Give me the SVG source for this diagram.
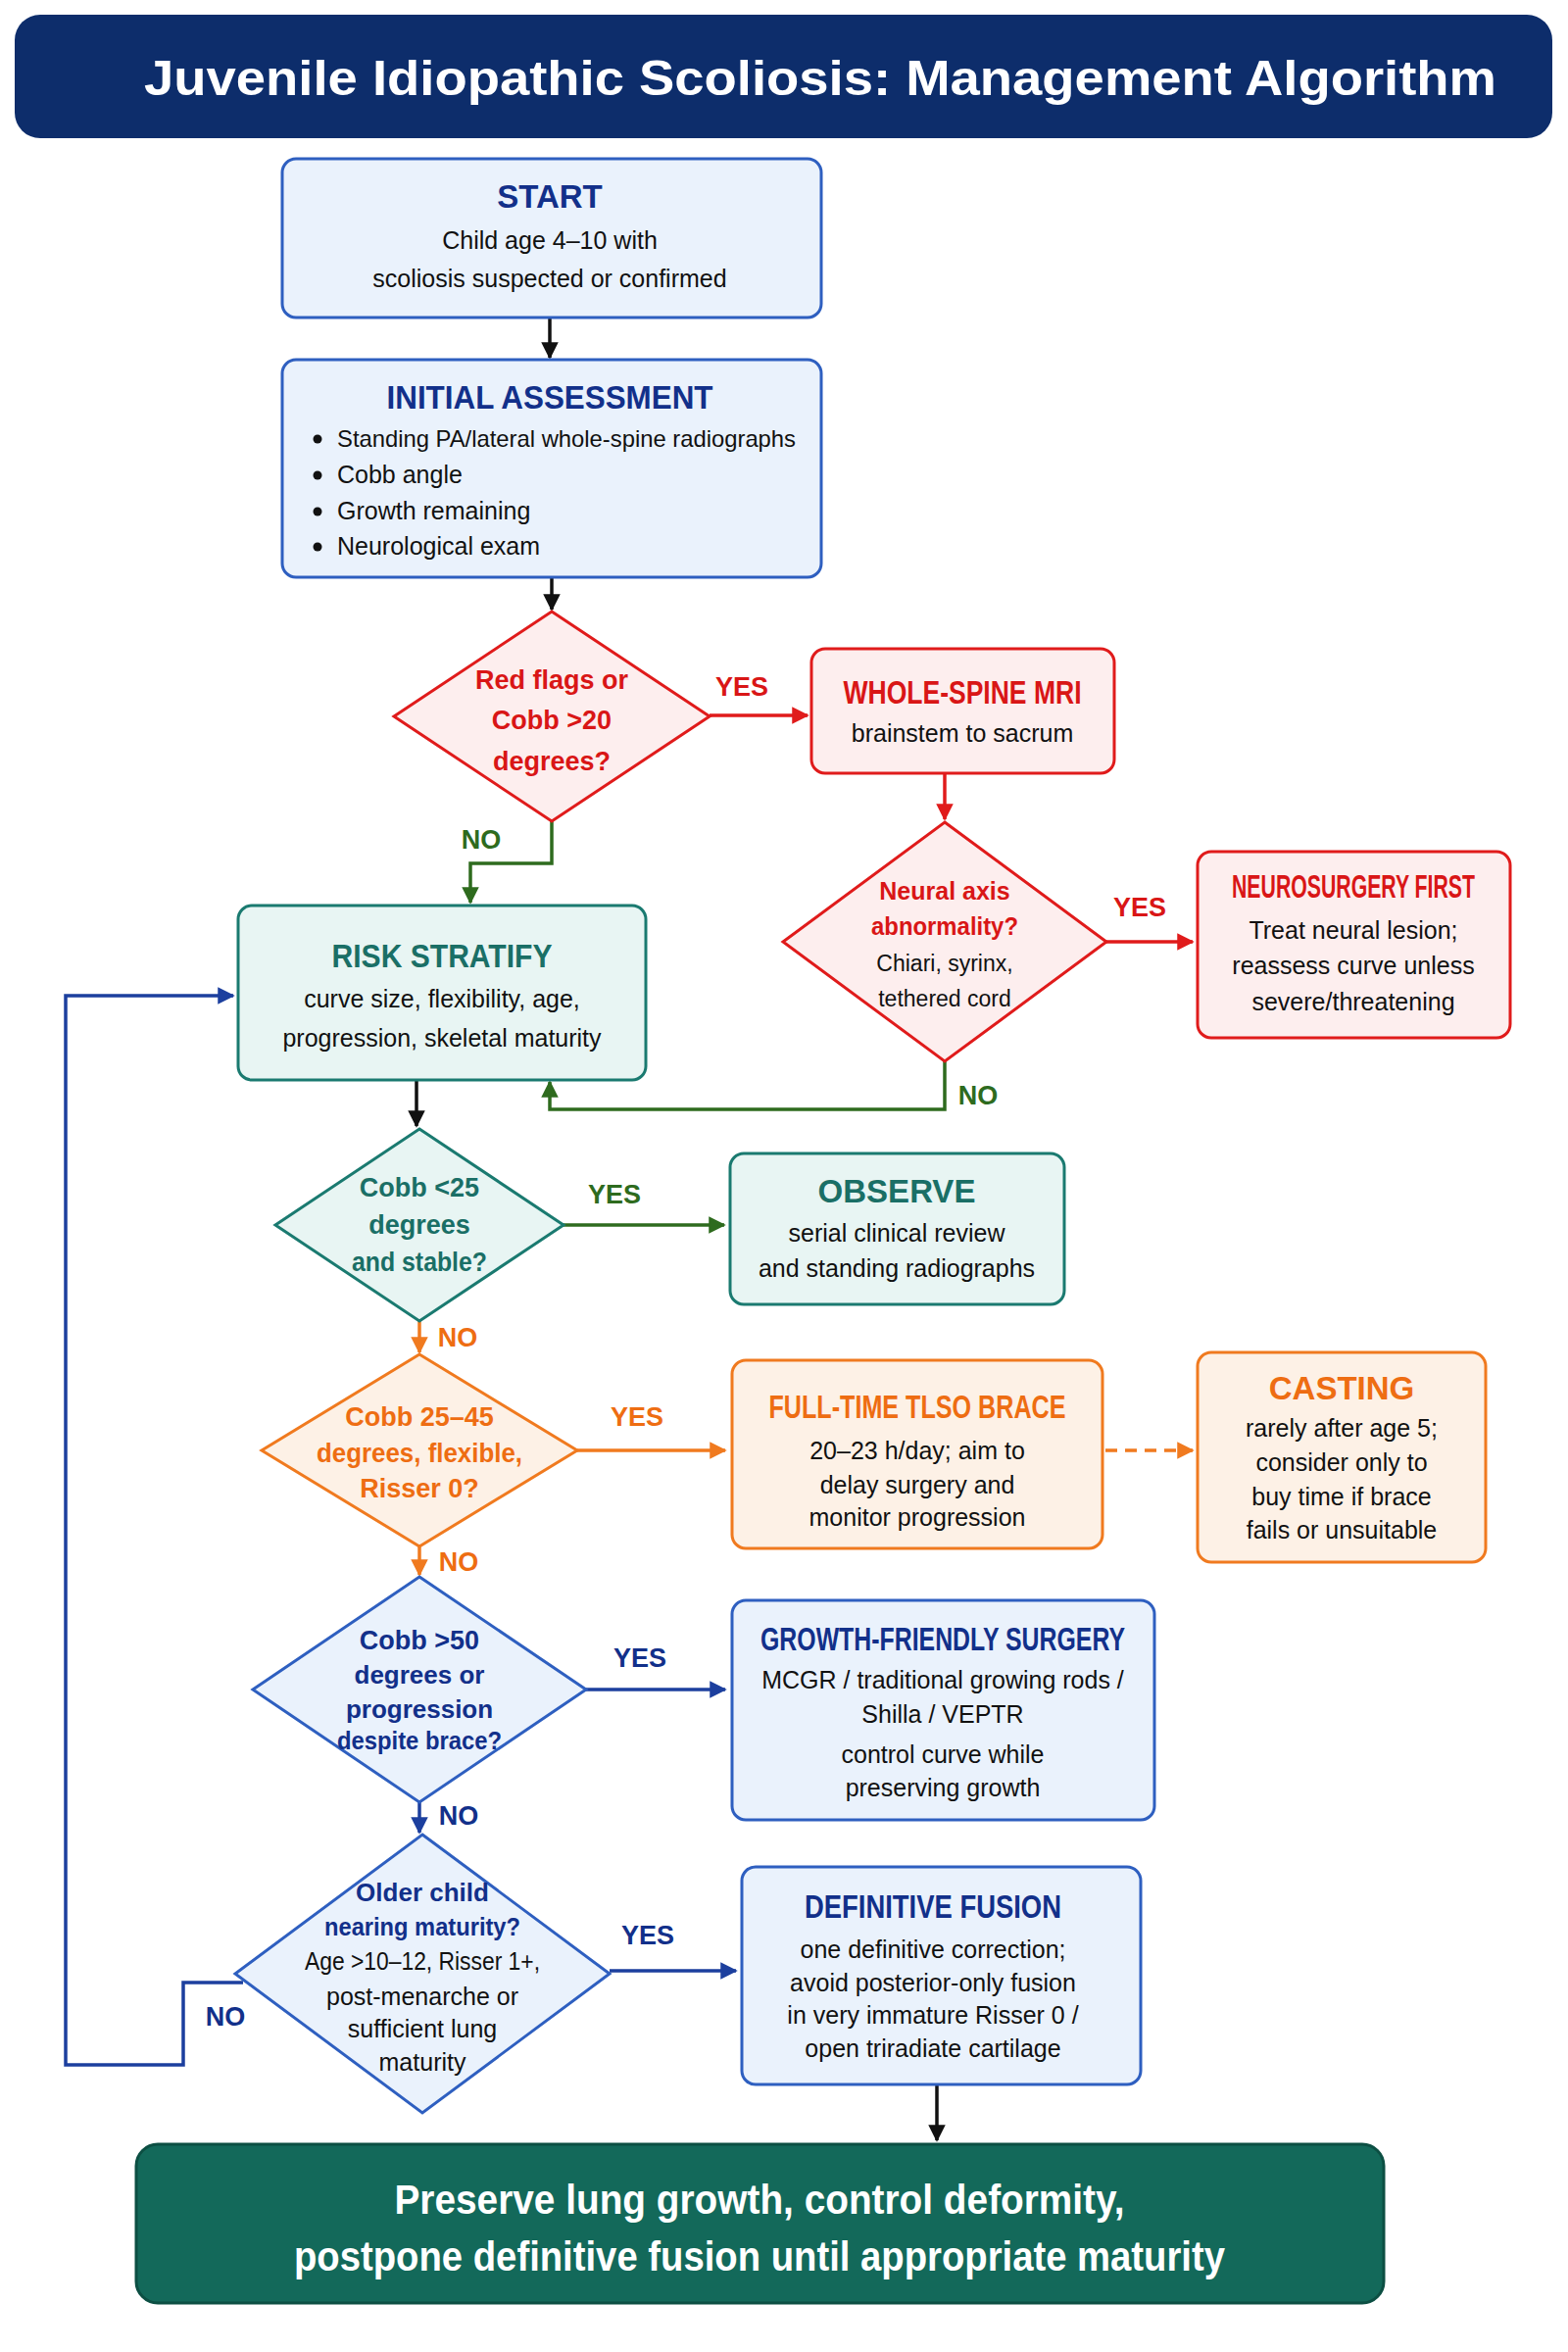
<svg xmlns="http://www.w3.org/2000/svg" width="1600" height="2400" viewBox="0 0 1600 2400">
<defs>
<style>
text{font-family:"Liberation Sans",Arial,sans-serif;text-anchor:middle}
.t{font-weight:bold;font-size:33px}
.b{font-size:25px;fill:#111}
.l{font-weight:bold;font-size:27px}
.blue{fill:#eaf2fc;stroke:#2e5fc0;stroke-width:3}
.red{fill:#fdeeee;stroke:#e01b1b;stroke-width:3}
.teal{fill:#e8f5f3;stroke:#1a7a70;stroke-width:3}
.org{fill:#fdf1e6;stroke:#f07a1f;stroke-width:3}
.cb{fill:#12308a}.cr{fill:#d91616}.ct{fill:#1a6f66}.co{fill:#ee6d12}.cg{fill:#2e6b1e}
.ln{fill:none;stroke-width:3.5}
</style>
<marker id="ak" viewBox="0 0 10 10" refX="9" refY="5" markerWidth="5" markerHeight="5" orient="auto"><path d="M0,0L10,5L0,10z" fill="#111"/></marker>
<marker id="ar" viewBox="0 0 10 10" refX="9" refY="5" markerWidth="5" markerHeight="5" orient="auto"><path d="M0,0L10,5L0,10z" fill="#e01b1b"/></marker>
<marker id="ag" viewBox="0 0 10 10" refX="9" refY="5" markerWidth="5" markerHeight="5" orient="auto"><path d="M0,0L10,5L0,10z" fill="#2e6b1e"/></marker>
<marker id="ao" viewBox="0 0 10 10" refX="9" refY="5" markerWidth="5" markerHeight="5" orient="auto"><path d="M0,0L10,5L0,10z" fill="#f07a1f"/></marker>
<marker id="ab" viewBox="0 0 10 10" refX="9" refY="5" markerWidth="5" markerHeight="5" orient="auto"><path d="M0,0L10,5L0,10z" fill="#1c3f9e"/></marker>
</defs>
<rect width="1600" height="2400" fill="#fff"/>
<g id="title"><rect x="15" y="15" width="1569" height="126" rx="26" fill="#0d2d6b"/><text x="837" y="97" fill="#fff" font-weight="bold" font-size="50" textLength="1380" lengthAdjust="spacingAndGlyphs">Juvenile Idiopathic Scoliosis: Management Algorithm</text></g>

<g id="connectors">
<path class="ln" stroke="#111" d="M561,324V365" marker-end="url(#ak)"/>
<path class="ln" stroke="#111" d="M563,589V622" marker-end="url(#ak)"/>
<path class="ln" stroke="#e01b1b" d="M724,730H824" marker-end="url(#ar)"/>
<path class="ln" stroke="#e01b1b" d="M964,789V836" marker-end="url(#ar)"/>
<path class="ln" stroke="#e01b1b" d="M1129,961H1217" marker-end="url(#ar)"/>
<path class="ln" stroke="#2e6b1e" d="M964,1083V1132H561V1104" marker-end="url(#ag)"/>
<path class="ln" stroke="#2e6b1e" d="M563,838V881H480V921" marker-end="url(#ag)"/>
<path class="ln" stroke="#1c3f9e" d="M248,2023H187V2107H67V1016H238" marker-end="url(#ab)"/>
<path class="ln" stroke="#111" d="M425,1102V1149" marker-end="url(#ak)"/>
<path class="ln" stroke="#2e6b1e" d="M575,1250H739" marker-end="url(#ag)"/>
<path class="ln" stroke="#f07a1f" d="M428,1348V1380" marker-end="url(#ao)"/>
<path class="ln" stroke="#f07a1f" d="M589,1480H740" marker-end="url(#ao)"/>
<path class="ln" stroke="#f07a1f" stroke-dasharray="12,8" d="M1128,1480H1217" marker-end="url(#ao)"/>
<path class="ln" stroke="#f07a1f" d="M428,1578V1607" marker-end="url(#ao)"/>
<path class="ln" stroke="#1c3f9e" d="M598,1724H740" marker-end="url(#ab)"/>
<path class="ln" stroke="#1c3f9e" d="M428,1839V1870" marker-end="url(#ab)"/>
<path class="ln" stroke="#1c3f9e" d="M622,2011H751" marker-end="url(#ab)"/>
<path class="ln" stroke="#111" d="M956,2127V2184" marker-end="url(#ak)"/>
<text class="l cr" x="757" y="710">YES</text>
<text class="l cr" x="1163" y="935">YES</text>
<text class="l cg" x="998" y="1127">NO</text>
<text class="l cg" x="491" y="866">NO</text>
<text class="l cb" x="230" y="2067">NO</text>
<text class="l cg" x="627" y="1228">YES</text>
<text class="l co" x="467" y="1374">NO</text>
<text class="l co" x="650" y="1455">YES</text>
<text class="l co" x="468" y="1603">NO</text>
<text class="l cb" x="653" y="1701">YES</text>
<text class="l cb" x="468" y="1862">NO</text>
<text class="l cb" x="661" y="1984">YES</text>
</g>

<g id="start"><rect class="blue" x="288" y="162" width="550" height="162" rx="14"/><text class="t cb" x="561" y="212">START</text><text class="b" x="561" y="254">Child age 4–10 with</text><text class="b" x="561" y="293">scoliosis suspected or confirmed</text></g>

<g id="assess"><rect class="blue" x="288" y="367" width="550" height="222" rx="14"/><text class="t cb" x="561" y="417" textLength="333" lengthAdjust="spacingAndGlyphs">INITIAL ASSESSMENT</text>
<circle cx="324" cy="448" r="4.5" fill="#111"/><circle cx="324" cy="485" r="4.5" fill="#111"/><circle cx="324" cy="522" r="4.5" fill="#111"/><circle cx="324" cy="558" r="4.5" fill="#111"/>
<text class="b" x="344" y="456" style="text-anchor:start;font-size:24px" textLength="468" lengthAdjust="spacingAndGlyphs">Standing PA/lateral whole-spine radiographs</text>
<text class="b" x="344" y="493" style="text-anchor:start">Cobb angle</text>
<text class="b" x="344" y="530" style="text-anchor:start">Growth remaining</text>
<text class="b" x="344" y="566" style="text-anchor:start">Neurological exam</text></g>

<g id="d1"><path class="red" d="M563,624L724,731L563,838L402,731Z"/><text class="l cr" x="563" y="703" font-size="29">Red flags or</text><text class="l cr" x="563" y="744" font-size="29">Cobb &gt;20</text><text class="l cr" x="563" y="786" font-size="29">degrees?</text></g>

<g id="mri"><rect class="red" x="828" y="662" width="309" height="127" rx="14"/><text class="t cr" x="982" y="718" font-size="30" textLength="243" lengthAdjust="spacingAndGlyphs">WHOLE-SPINE MRI</text><text class="b" x="982" y="757">brainstem to sacrum</text></g>

<g id="d2"><path class="red" d="M964,839L1129,961L964,1083L799,961Z"/><text class="l cr" x="964" y="918" style="font-size:25px">Neural axis</text><text class="l cr" x="964" y="954" style="font-size:25px" textLength="150" lengthAdjust="spacingAndGlyphs">abnormality?</text><text class="b" x="964" y="991" style="font-size:23px">Chiari, syrinx,</text><text class="b" x="964" y="1027" style="font-size:23px">tethered cord</text></g>

<g id="neuro"><rect class="red" x="1222" y="869" width="319" height="190" rx="14"/><text class="t cr" x="1381" y="916" font-size="28" textLength="248" lengthAdjust="spacingAndGlyphs">NEUROSURGERY FIRST</text><text class="b" x="1381" y="958">Treat neural lesion;</text><text class="b" x="1381" y="994">reassess curve unless</text><text class="b" x="1381" y="1031">severe/threatening</text></g>

<g id="risk"><rect class="teal" x="243" y="924" width="416" height="178" rx="14"/><text class="t ct" x="451" y="987" textLength="225" lengthAdjust="spacingAndGlyphs">RISK STRATIFY</text><text class="b" x="451" y="1028">curve size, flexibility, age,</text><text class="b" x="451" y="1068">progression, skeletal maturity</text></g>

<g id="d3"><path class="teal" d="M428,1152L575,1250L428,1348L281,1250Z"/><text class="l ct" x="428" y="1221">Cobb &lt;25</text><text class="l ct" x="428" y="1259">degrees</text><text class="l ct" x="428" y="1297" textLength="138" lengthAdjust="spacingAndGlyphs">and stable?</text></g>

<g id="observe"><rect class="teal" x="745" y="1177" width="341" height="154" rx="14"/><text class="t ct" x="915" y="1227">OBSERVE</text><text class="b" x="915" y="1267">serial clinical review</text><text class="b" x="915" y="1303">and standing radiographs</text></g>

<g id="d4"><path class="org" d="M428,1382L589,1480L428,1578L267,1480Z"/><text class="l co" x="428" y="1455">Cobb 25–45</text><text class="l co" x="428" y="1492" textLength="210" lengthAdjust="spacingAndGlyphs">degrees, flexible,</text><text class="l co" x="428" y="1528">Risser 0?</text></g>

<g id="brace"><rect class="org" x="747" y="1388" width="378" height="192" rx="14"/><text class="t co" x="936" y="1447" font-size="30" textLength="303" lengthAdjust="spacingAndGlyphs">FULL-TIME TLSO BRACE</text><text class="b" x="936" y="1489">20–23 h/day; aim to</text><text class="b" x="936" y="1524">delay surgery and</text><text class="b" x="936" y="1557">monitor progression</text></g>

<g id="cast"><rect class="org" x="1222" y="1380" width="294" height="214" rx="14"/><text class="t co" x="1369" y="1428">CASTING</text><text class="b" x="1369" y="1466">rarely after age 5;</text><text class="b" x="1369" y="1501">consider only to</text><text class="b" x="1369" y="1536">buy time if brace</text><text class="b" x="1369" y="1570">fails or unsuitable</text></g>

<g id="d5"><path class="blue" d="M428,1609L598,1724L428,1839L258,1724Z"/><text class="l cb" x="428" y="1683">Cobb &gt;50</text><text class="l cb" x="428" y="1718" style="font-size:26px">degrees or</text><text class="l cb" x="428" y="1753" style="font-size:26px">progression</text><text class="l cb" x="428" y="1785" style="font-size:26px" textLength="168" lengthAdjust="spacingAndGlyphs">despite brace?</text></g>

<g id="growth"><rect class="blue" x="747" y="1633" width="431" height="224" rx="14"/><text class="t cb" x="962" y="1684" font-size="30" textLength="372" lengthAdjust="spacingAndGlyphs">GROWTH-FRIENDLY SURGERY</text><text class="b" x="962" y="1723">MCGR / traditional growing rods /</text><text class="b" x="962" y="1758">Shilla / VEPTR</text><text class="b" x="962" y="1799">control curve while</text><text class="b" x="962" y="1833">preserving growth</text></g>

<g id="d6"><path class="blue" d="M431,1872L622,2014L431,2156L240,2014Z"/><text class="l cb" x="431" y="1940" style="font-size:26px">Older child</text><text class="l cb" x="431" y="1975" style="font-size:26px" textLength="200" lengthAdjust="spacingAndGlyphs">nearing maturity?</text><text class="b" x="431" y="2010" textLength="240" lengthAdjust="spacingAndGlyphs">Age &gt;10–12, Risser 1+,</text><text class="b" x="431" y="2046">post-menarche or</text><text class="b" x="431" y="2079">sufficient lung</text><text class="b" x="431" y="2113">maturity</text></g>

<g id="fusion"><rect class="blue" x="757" y="1905" width="407" height="222" rx="14"/><text class="t cb" x="952" y="1957" font-size="31" textLength="262" lengthAdjust="spacingAndGlyphs">DEFINITIVE FUSION</text><text class="b" x="952" y="1998">one definitive correction;</text><text class="b" x="952" y="2032">avoid posterior-only fusion</text><text class="b" x="952" y="2065">in very immature Risser 0 /</text><text class="b" x="952" y="2099">open triradiate cartilage</text></g>

<g id="goal"><rect x="139" y="2188" width="1273" height="162" rx="22" fill="#13695a" stroke="#0c4f43" stroke-width="3"/><text x="775" y="2259" fill="#fff" font-weight="bold" font-size="42" textLength="745" lengthAdjust="spacingAndGlyphs">Preserve lung growth, control deformity,</text><text x="775" y="2317" fill="#fff" font-weight="bold" font-size="42" textLength="950" lengthAdjust="spacingAndGlyphs">postpone definitive fusion until appropriate maturity</text></g>
</svg>
